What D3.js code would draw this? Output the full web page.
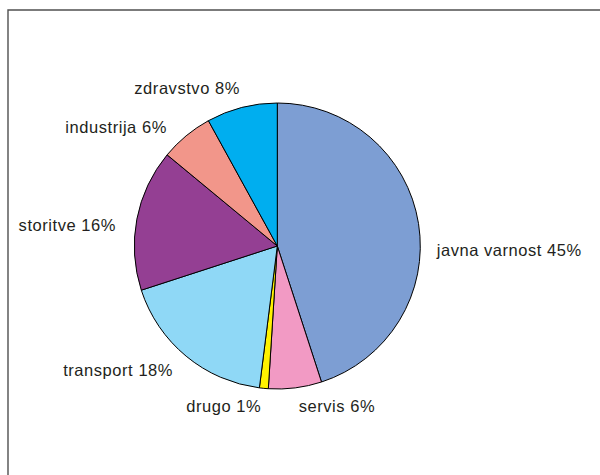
<!DOCTYPE html>
<html>
<head>
<meta charset="utf-8">
<script src="https://cdn.jsdelivr.net/npm/d3@7"></script>
<style>
  html, body { margin: 0; padding: 0; background: #fff; }
  svg { display: block; }
  .lbl { font-family: "Liberation Sans", Arial, Helvetica, sans-serif; font-size: 16.5px; letter-spacing: 0.55px; fill: #231f20; }
</style>
</head>
<body>
<svg id="chart" width="600" height="475"></svg>
<script>
// Sectors, clockwise from 12 o'clock
const categories = ["javna varnost", "servis", "drugo", "transport", "storitve", "industrija", "zdravstvo"];
const shares = [45, 6, 1, 18, 16, 6, 8];
const sliceColors = ["#7d9ed3", "#f29ac4", "#fff200", "#8fd8f6", "#943f93", "#f2968a", "#00aeef"];

// Label placement around the pie: angular offset from the slice middle (deg) and distance from the centre
const labelShiftDeg = [10.1, -13.2, 13.1, 12.4, -5.2, -14.1, -15.3];
const labelDistance = [232, 171, 169, 202, 211, 200, 182];

const width = 600, height = 475;
const cx = 277.3, cy = 246, radius = 143;

const svg = d3.select("#chart");

// frame
svg.append("path")
  .attr("d", `M8,${height + 5} L8,10 L${width + 5},10`)
  .attr("fill", "none")
  .attr("stroke", "#505050")
  .attr("stroke-width", 1.4);

const data = categories.map((c, i) => ({ name: c, value: shares[i], color: sliceColors[i] }));

const pie = d3.pie().value(d => d.value).sort(null).startAngle(0).endAngle(2 * Math.PI);
const arcs = pie(data);
const arc = d3.arc().innerRadius(0).outerRadius(radius);

const g = svg.append("g").attr("transform", `translate(${cx},${cy})`);

g.selectAll("path.slice")
  .data(arcs)
  .enter().append("path")
  .attr("class", "slice")
  .attr("d", arc)
  .attr("fill", d => d.data.color)
  .attr("stroke", "#000")
  .attr("stroke-width", 1)
  .attr("stroke-linejoin", "round");

// labels: "<name> <value>%"
const capHalf = 5.8;
g.selectAll("text.lbl")
  .data(arcs)
  .enter().append("text")
  .attr("class", "lbl")
  .attr("text-anchor", "middle")
  .attr("x", (d, i) => {
    const a = (d.startAngle + d.endAngle) / 2 + labelShiftDeg[i] * Math.PI / 180;
    return labelDistance[i] * Math.sin(a);
  })
  .attr("y", (d, i) => {
    const a = (d.startAngle + d.endAngle) / 2 + labelShiftDeg[i] * Math.PI / 180;
    return -labelDistance[i] * Math.cos(a) + capHalf;
  })
  .text(d => `${d.data.name} ${d.data.value}%`);
</script>
</body>
</html>
